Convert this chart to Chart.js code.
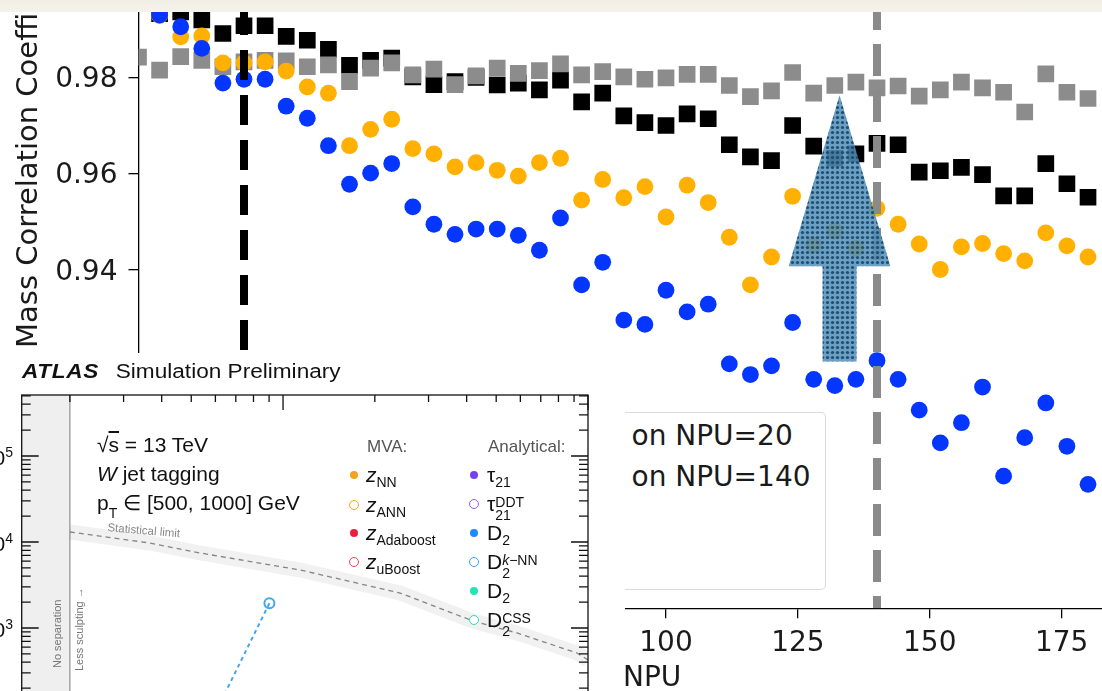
<!DOCTYPE html>
<html>
<head>
<meta charset="utf-8">
<script src="https://cdn.jsdelivr.net/npm/chart.js@4.4.0/dist/chart.umd.min.js"></script>
<style>
  html, body { margin: 0; padding: 0; background: #fff; }
  #stage { position: relative; width: 1102px; height: 691px; overflow: hidden; background: #fff;
           font-family: 'DejaVu Sans', sans-serif; color: #1a1a1a; }
  #main { position: absolute; left: 0; top: 0; }
  .t { position: absolute; white-space: nowrap; }
  #ytitle { left: 13px; top: 348px; font-size: 29px; line-height: 29px;
            transform-origin: 0 0; transform: rotate(-90deg); }
  #legend { position: absolute; left: 625px; top: 412px; width: 200px; height: 176px;
            border: 1.6px solid #dadada; border-left: none; border-radius: 0 5px 5px 0; background: #fff; }
  #inset { position: absolute; left: 0; top: 353px; width: 625px; height: 338px; overflow: hidden;
           background: #fff; font-family: 'Liberation Sans', Arial, sans-serif; color: #111; filter: blur(0.45px); }
  #insetCanvas { position: absolute; left: 0; top: 0; }
  #inset sub { font-size: 14px; vertical-align: -5px; line-height: 0; }
  #inset sup { font-size: 14px; vertical-align: 8px; line-height: 0; }
  .ss { display: inline-block; font-size: 14px; line-height: 13px; vertical-align: -9px; }
  .mk { position: absolute; border-radius: 50%; box-sizing: border-box; }
  #paper { position: absolute; left: 0; top: 0; width: 1102px; height: 12px;
           background: linear-gradient(#f2eee5, #f5f2ec); }
</style>
</head>
<body>
<div id="stage">
  <canvas id="main" width="1102" height="691"></canvas>
  <div class="t" id="ytitle">Mass Correlation Coefficient</div>
  <div id="legend"></div>
  <div class="t" style="left:631.5px; top:421.8px; font-size:28px; line-height:28px;">on NPU=20</div>
  <div class="t" style="left:631.5px; top:462.8px; font-size:28px; line-height:28px;">on NPU=140</div>
  <div class="t" style="left:623px; top:663px; font-size:28px; line-height:28px;">NPU</div>
  <div id="inset">
    <canvas id="insetCanvas" width="600" height="420"></canvas>
  </div>
  <div id="paper"></div>
</div>

<script>
'use strict';

// ─── main panel data: correlation vs NPU ───
const NPU = [0, 4, 8, 12, 16, 20, 24, 28, 32, 36, 40, 44, 48, 52, 56, 60, 64, 68, 72, 76, 80, 84, 88,
  92, 96, 100, 104, 108, 112, 116, 120, 124, 128, 132, 136, 140, 144, 148, 152, 156, 160, 164, 168,
  172, 176, 180];

const CORR_BLACK = [null, 0.9932, 0.9936, 0.9919, 0.9891, 0.9907, 0.9907, 0.9885, 0.9877, 0.9858, 0.9825,
  0.9835, 0.9840, 0.9801, 0.9785, 0.9791, 0.9800, 0.9784, 0.9788, 0.9774, 0.9794,
  0.9749, 0.9767, 0.9720, 0.9706, 0.9700, 0.9724, 0.9714, 0.9660, 0.9635, 0.9627,
  0.9700, 0.9657, 0.9632, 0.9641, 0.9663, 0.9660, 0.9603, 0.9606, 0.9613, 0.9598,
  0.9554, 0.9554, 0.9621, 0.9579, 0.9551];

const CORR_GRAY = [0.9842, 0.9815, 0.9843, 0.9835, 0.9822, 0.9832, 0.9835, 0.9834, 0.9822, 0.9826, 0.9791,
  0.9819, 0.9830, 0.9805, 0.9817, 0.9785, 0.9803, 0.9819, 0.9808, 0.9814, 0.9828,
  0.9805, 0.9812, 0.9801, 0.9796, 0.9799, 0.9806, 0.9806, 0.9783, 0.9760, 0.9772,
  0.9810, 0.9767, 0.9783, 0.9790, 0.9778, 0.9782, 0.9761, 0.9774, 0.9790, 0.9778,
  0.9769, 0.9728, 0.9807, 0.9769, 0.9756];

const CORR_ORANGE = [null, 0.9928, 0.9884, 0.9886, 0.9830, 0.9830, 0.9832, 0.9813, 0.9780, 0.9767, 0.9658,
  0.9692, 0.9713, 0.9652, 0.9641, 0.9614, 0.9623, 0.9607, 0.9595, 0.9623, 0.9632,
  0.9545, 0.9588, 0.9550, 0.9573, 0.9510, 0.9576, 0.9540, 0.9468, 0.9369, 0.9427,
  0.9553, 0.9452, 0.9481, 0.9445, 0.9528, 0.9495, 0.9454, 0.9401, 0.9448, 0.9455,
  0.9434, 0.9419, 0.9477, 0.9450, 0.9427];

const CORR_BLUE = [null, 0.9929, 0.9905, 0.9860, 0.9788, 0.9796, 0.9796, 0.9740, 0.9715, 0.9658, 0.9578,
  0.9601, 0.9621, 0.9531, 0.9495, 0.9474, 0.9485, 0.9485, 0.9472, 0.9441, 0.9508,
  0.9369, 0.9416, 0.9296, 0.9287, 0.9358, 0.9313, 0.9329, 0.9205, 0.9183, 0.9201,
  0.9291, 0.9173, 0.9160, 0.9173, 0.9212, 0.9173, 0.9109, 0.9041, 0.9083, 0.9157,
  0.8972, 0.9052, 0.9124, 0.9034, 0.8955];

const REF_NPU = [20, 140];          // dashed vertical lines
const X_TICKS = [0, 25, 50, 75, 100, 125, 150, 175];
const Y_TICKS = [0.88, 0.90, 0.92, 0.94, 0.96, 0.98];
const X_MIN = 0, X_MAX = 182.65;
const Y_MIN = 0.86977, Y_MAX = 0.99356;
const AREA = { left: 138.5, top: 12, bottom: 608.3 };

// arrow overlay, in data units
const ARROW_X = 132.9, ARROW_TIP = 0.9763, ARROW_BASE = 0.9408, ARROW_TAIL = 0.9210;
const ARROW_HEAD = 9.64, ARROW_SHAFT = 3.22;

// ─── inset data (log-log) ───
const STAT_X = [2.0, 3.66, 5.35, 11.4, 24.2, 42, 58.5, 92, 100];
const STAT_Y = [13070, 9730, 7450, 4720, 2550, 1206, 875, 512, 425];
const KNN_X = [9.02, 6.53, 5.4];
const KNN_Y = [1937, 190, 50];
const NO_SEP_X = 2;
const INSET_Y_TICKS = [1e3, 1e4, 1e5];
const INSET_Y_LABELS = ['3', '4', '5'];

const MVA_LABELS = ['<i>z</i><sub>NN</sub>', '<i>z</i><sub>ANN</sub>', '<i>z</i><sub>Adaboost</sub>', '<i>z</i><sub>uBoost</sub>'];
const MVA_COLORS = ['#f5a21c', '#f5a21c', '#e8203c', '#e8405a'];
const MVA_OPEN = [false, true, false, true];
const ANA_LABELS = ['τ<sub>21</sub>', 'τ<span class="ss">DDT<br>21</span>', 'D<sub>2</sub>',
  'D<span class="ss"><i>k</i>−NN<br>2</span>', 'D<sub>2</sub>', 'D<span class="ss">CSS<br>2</span>'];
const ANA_COLORS = ['#7440f0', '#8d5cf2', '#1a8dfa', '#3ca4f5', '#1fe6b4', '#2fd8b8'];
const ANA_OPEN = [false, true, false, true, false, true];

const FONT = "'DejaVu Sans', sans-serif";

function series(vals) {
  return NPU.map((n, i) => ({ x: n, y: vals[i] }));
}

function refLine(npu, color, dash, offset) {
  return {
    label: 'NPU=' + npu,
    data: [{ x: npu, y: Y_MAX }, { x: npu, y: Y_MIN }],
    showLine: true,
    borderColor: color,
    borderWidth: 8,
    borderDash: dash,
    borderDashOffset: offset,
    pointRadius: 0,
    clip: 0,
    order: 0,
  };
}

function markers(label, vals, color, style, radius, order) {
  return {
    label,
    data: series(vals),
    pointStyle: style,
    pointRadius: radius,
    pointBackgroundColor: color,
    pointBorderWidth: 0,
    showLine: false,
    clip: 0,
    order,
  };
}

// dotted fill for the arrow
function arrowPattern(ctx) {
  const tile = document.createElement('canvas');
  tile.width = tile.height = 5;
  const t = tile.getContext('2d');
  t.fillStyle = 'rgba(80,144,186,0.86)';
  t.fillRect(0, 0, 5, 5);
  t.fillStyle = 'rgba(28,70,104,0.92)';
  t.beginPath();
  t.arc(2.5, 2.5, 1.6, 0, Math.PI * 2);
  t.fill();
  return ctx.createPattern(tile, 'repeat');
}

const arrowPlugin = {
  id: 'arrow',
  afterDatasetsDraw(chart) {
    const { ctx, scales: { x, y } } = chart;
    const px = v => x.getPixelForValue(v);
    const py = v => y.getPixelForValue(v);
    ctx.save();
    ctx.beginPath();
    ctx.moveTo(px(ARROW_X), py(ARROW_TIP));
    ctx.lineTo(px(ARROW_X + ARROW_HEAD), py(ARROW_BASE));
    ctx.lineTo(px(ARROW_X + ARROW_SHAFT), py(ARROW_BASE));
    ctx.lineTo(px(ARROW_X + ARROW_SHAFT), py(ARROW_TAIL));
    ctx.lineTo(px(ARROW_X - ARROW_SHAFT), py(ARROW_TAIL));
    ctx.lineTo(px(ARROW_X - ARROW_SHAFT), py(ARROW_BASE));
    ctx.lineTo(px(ARROW_X - ARROW_HEAD), py(ARROW_BASE));
    ctx.closePath();
    ctx.fillStyle = arrowPattern(ctx);
    ctx.fill();
    ctx.restore();
  },
};

const noPad = s => { s.paddingTop = s.paddingBottom = s.paddingLeft = s.paddingRight = 0; };

new Chart(document.getElementById('main'), {
  type: 'scatter',
  data: {
    datasets: [
      refLine(REF_NPU[0], '#000000', [30, 15], 7),
      refLine(REF_NPU[1], '#8a8a8a', [32, 14], 14),
      markers('blue', CORR_BLUE, '#0536ff', 'circle', 8.4, 1),
      markers('orange', CORR_ORANGE, '#ffb000', 'circle', 8.4, 2),
      markers('gray', CORR_GRAY, '#8c8c8c', 'rect', 11.8, 3),
      markers('black', CORR_BLACK, '#000000', 'rect', 11.8, 4),
    ],
  },
  options: {
    responsive: false,
    animation: false,
    events: [],
    layout: { autoPadding: false, padding: { top: AREA.top, left: 0, right: 0, bottom: 0 } },
    plugins: { legend: { display: false }, tooltip: { enabled: false } },
    scales: {
      x: {
        type: 'linear', min: X_MIN, max: X_MAX,
        afterBuildTicks: s => { s.ticks = X_TICKS.map(v => ({ value: v })); },
        afterFit: s => { s.height = 691 - AREA.bottom; noPad(s); },
        grid: { drawOnChartArea: false, tickLength: 10, color: '#000', lineWidth: 1.3 },
        border: { color: '#000', width: 1.3 },
        ticks: { autoSkip: false, maxRotation: 0, padding: 9, color: '#1a1a1a', font: { family: FONT, size: 28 } },
      },
      y: {
        min: Y_MIN, max: Y_MAX,
        afterBuildTicks: s => { s.ticks = Y_TICKS.map(v => ({ value: v })); },
        afterFit: s => { s.width = AREA.left; noPad(s); },
        grid: { drawOnChartArea: false, tickLength: 10, color: '#000', lineWidth: 1.3 },
        border: { color: '#000', width: 1.3 },
        ticks: { padding: 11, labelOffset: 2.5, color: '#1a1a1a', font: { family: FONT, size: 28 },
                 callback: v => v.toFixed(2) },
      },
    },
  },
  plugins: [arrowPlugin],
});

// ─── inset: frame, band and inward log ticks ───
function logTicks(lo, hi) {
  const out = [];
  for (let e = -1; e <= 6; e++) {
    for (let d = 1; d <= 9; d++) {
      const v = d * Math.pow(10, e);
      if (v >= lo && v <= hi) out.push({ v, major: d === 1 });
    }
  }
  return out;
}

const insetFrame = {
  id: 'insetFrame',
  beforeDatasetsDraw(chart) {
    const { ctx, chartArea: a, scales: { x } } = chart;
    const xs = x.getPixelForValue(NO_SEP_X);
    ctx.save();
    ctx.fillStyle = '#efefef';
    ctx.fillRect(a.left, a.top, xs - a.left, a.bottom - a.top);
    ctx.strokeStyle = '#8f8f8f';
    ctx.lineWidth = 1.2;
    ctx.beginPath();
    ctx.moveTo(xs, a.top);
    ctx.lineTo(xs, a.bottom);
    ctx.stroke();
    ctx.restore();
  },
  afterDraw(chart) {
    const { ctx, chartArea: a, scales: { x, y } } = chart;
    ctx.save();
    ctx.strokeStyle = '#111';
    ctx.lineWidth = 1.3;
    ctx.strokeRect(a.left, a.top, a.right - a.left, a.bottom - a.top);
    ctx.beginPath();
    logTicks(x.min, x.max).forEach(t => {
      const p = x.getPixelForValue(t.v);
      ctx.moveTo(p, a.top);
      ctx.lineTo(p, a.top + (t.major ? 15 : 7));
    });
    logTicks(y.min, y.max).forEach(t => {
      const p = y.getPixelForValue(t.v);
      const len = t.major ? 17 : 9;
      ctx.moveTo(a.left, p);
      ctx.lineTo(a.left + len, p);
      ctx.moveTo(a.right, p);
      ctx.lineTo(a.right - len, p);
    });
    ctx.stroke();
    ctx.restore();
  },
};

const insetChart = new Chart(document.getElementById('insetCanvas'), {
  type: 'scatter',
  data: {
    datasets: [
      {
        label: 'Statistical limit band',
        data: STAT_X.map((v, i) => ({ x: v, y: STAT_Y[i] })),
        showLine: true, borderColor: 'rgba(0,0,0,0.055)', borderWidth: 15, pointRadius: 0,
      },
      {
        label: 'Statistical limit',
        data: STAT_X.map((v, i) => ({ x: v, y: STAT_Y[i] })),
        showLine: true, borderColor: '#8c8c8c', borderWidth: 1.3, borderDash: [5, 4], pointRadius: 0,
      },
      {
        label: 'D2 k-NN',
        data: KNN_X.map((v, i) => ({ x: v, y: KNN_Y[i] })),
        showLine: true, borderColor: '#45a6f0', borderWidth: 2, borderDash: [4, 3.5],
        pointRadius: [5, 0, 0], pointBorderWidth: 2, pointBorderColor: '#45a6f0',
        pointBackgroundColor: 'rgba(255,255,255,0)',
      },
    ],
  },
  options: {
    responsive: false,
    animation: false,
    events: [],
    layout: { autoPadding: false, padding: { left: 21.7, right: 12, top: 42, bottom: 20 } },
    plugins: { legend: { display: false }, tooltip: { enabled: false } },
    scales: {
      x: { type: 'logarithmic', min: 1.39, max: 100, display: false },
      y: { type: 'logarithmic', min: 35.2, max: 511700, display: false },
    },
  },
  plugins: [insetFrame],
});

// ─── inset texts ───
const inset = document.getElementById('inset');
function put(html, left, baseline, size, extra) {
  const d = document.createElement('div');
  d.className = 't';
  d.style.left = left + 'px';
  d.style.top = (baseline - 0.846 * size) + 'px';
  d.style.fontSize = size + 'px';
  d.style.lineHeight = size + 'px';
  if (extra) Object.assign(d.style, extra);
  d.innerHTML = html;
  inset.appendChild(d);
  return d;
}

put('<b><i style="letter-spacing:0.6px">ATLAS</i></b><span style="margin-left:14.8px">Simulation Preliminary</span>',
  22, 25, 20, { transform: 'scaleX(1.13)', transformOrigin: '0 0' });
put('√<span style="text-decoration:overline">s</span> = 13 TeV', 97, 99, 21);
put('<i>W</i> jet tagging', 97, 128, 21);
put('p<sub style="vertical-align:-8px">T</sub> ∈ [500, 1000] GeV', 97, 157, 21);
put('Statistical limit', 108, 179, 11.5, { color: '#888', transform: 'rotate(5deg)', transformOrigin: '0 0' });
put('No separation', 52, 324, 11, { color: '#777', transform: 'rotate(-90deg)', transformOrigin: '0 0' });
put('Less sculpting →', 74, 327, 11, { color: '#777', transform: 'rotate(-90deg)', transformOrigin: '0 0' });
put('MVA:', 367, 99, 17, { color: '#555' });
put('Analytical:', 488, 99, 17, { color: '#555' });

// y tick labels of the inset, mostly cut off at the left edge
INSET_Y_TICKS.forEach((v, i) => {
  const yp = insetChart.scales.y.getPixelForValue(v);
  const d = put('10<sup>' + INSET_Y_LABELS[i] + '</sup>', 0, yp + 9, 21);
  d.style.left = '';
  d.style.right = '612px';
});

function legendRows(labels, colors, open, mx, tx, rows) {
  labels.forEach((html, i) => {
    const r = open[i] ? 5 : 4.2;
    const m = document.createElement('div');
    m.className = 'mk';
    Object.assign(m.style, {
      left: (mx - r) + 'px', top: (rows[i] - r) + 'px', width: 2 * r + 'px', height: 2 * r + 'px',
      background: open[i] ? '#fff' : colors[i],
      border: open[i] ? '1.7px solid ' + colors[i] : 'none',
    });
    inset.appendChild(m);
    put(html, tx, rows[i] + 7, 21);
  });
}
legendRows(MVA_LABELS, MVA_COLORS, MVA_OPEN, 354, 366, [122, 152, 180, 209]);
legendRows(ANA_LABELS, ANA_COLORS, ANA_OPEN, 474, 487, [122, 151, 180, 209, 238, 267]);
</script>
</body>
</html>
